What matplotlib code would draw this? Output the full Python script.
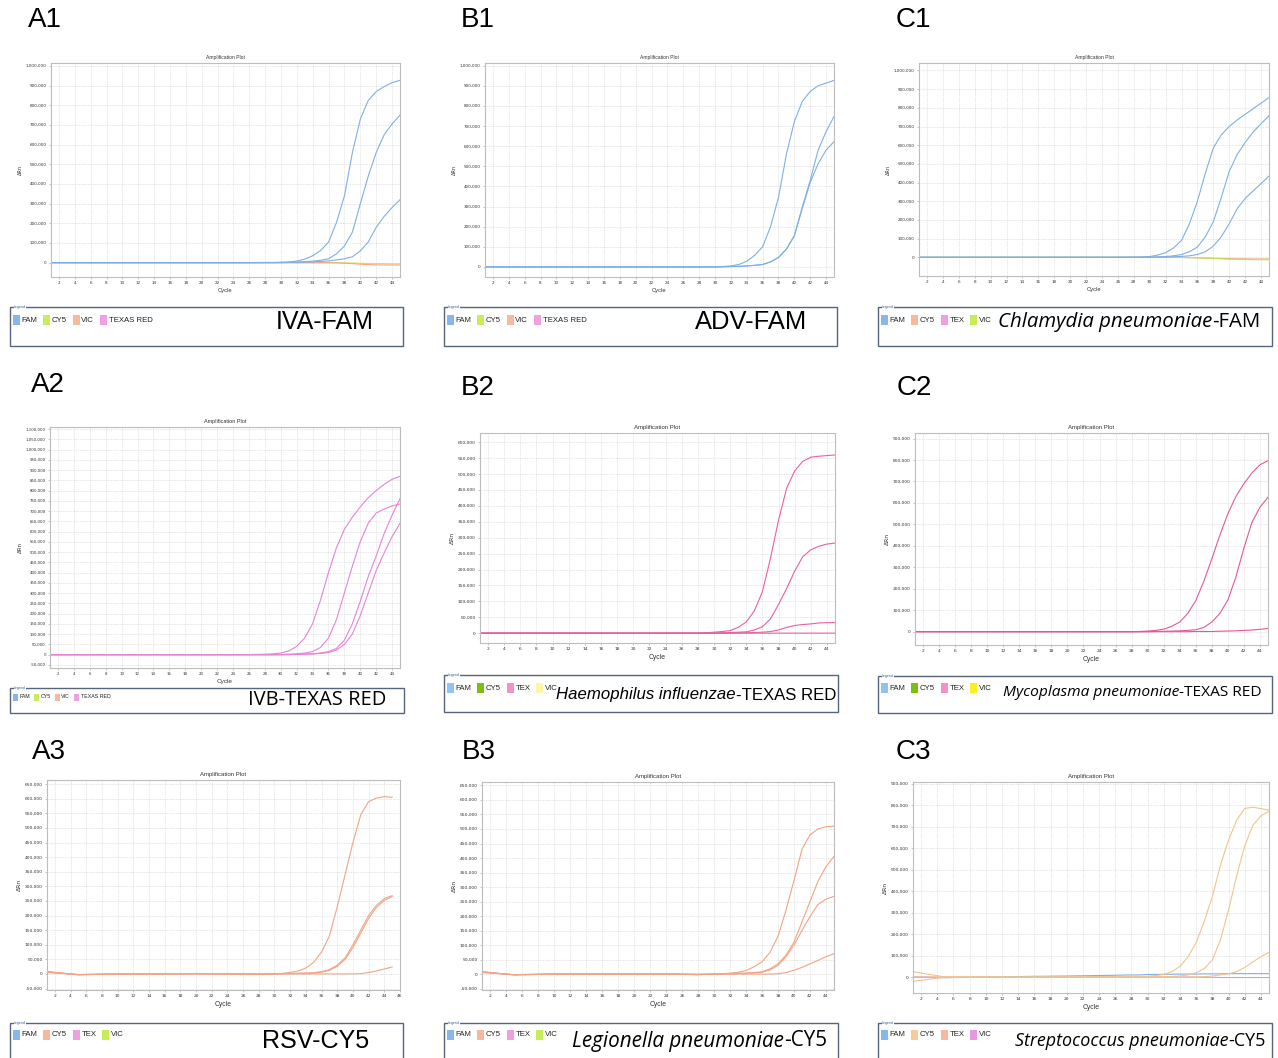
import matplotlib
matplotlib.use('Agg')
import matplotlib.pyplot as plt
from matplotlib.patches import Rectangle
from matplotlib.ticker import FuncFormatter

W, H = 1278, 1058

CYC = [1, 5, 10, 15, 20, 25, 28, 29, 30, 31, 32, 33, 34, 35, 36, 37, 38, 39, 40, 41, 42, 43, 44, 45]

A1_FAM = [
    [0, 0, 0, 0, 0, 0, 1, 1, 2, 3, 8, 18, 35, 62, 105, 205, 340, 560, 730, 825, 870, 895, 915, 927],
    [0, 0, 0, 0, 0, 0, 0, 0, 1, 2, 3, 5, 8, 12, 20, 45, 85, 155, 300, 440, 560, 650, 705, 750],
    [0, 0, 0, 0, 0, 0, 0, 0, 0, 1, 2, 3, 4, 6, 9, 14, 20, 30, 60, 105, 180, 235, 280, 320],
]
A1_VIC = [0, 0, 0, 0, 0, 0, 0, 0, 0, 0, 0, 0, 0, 0, 0, -1, -3, -5, -8, -10, -11, -12, -12, -12]
A1_CY5 = [0, 0, 0, 0, 0, 0, 0, 0, 0, 0, 0, 0, 0, 0, 0, 0, -1, -2, -3, -4, -5, -5, -6, -6]

B1_FAM = [
    [0, 0, 0, 0, 0, 0, 0, 0, 1, 2, 5, 12, 28, 58, 100, 200, 345, 560, 722, 822, 872, 900, 913, 927],
    [0, 0, 0, 0, 0, 0, 0, 0, 0, 1, 2, 3, 5, 8, 12, 25, 47, 88, 155, 297, 430, 580, 672, 747],
    [0, 0, 0, 0, 0, 0, 0, 0, 0, 1, 2, 3, 5, 8, 12, 25, 47, 88, 155, 290, 420, 513, 580, 622],
]

C1_FAM = [
    [0, 0, 0, 0, 0, 0, 1, 2, 4, 12, 25, 50, 90, 180, 300, 450, 585, 655, 700, 735, 765, 795, 825, 855],
    [0, 0, 0, 0, 0, 0, 0, 0, 1, 2, 4, 8, 15, 30, 55, 110, 190, 320, 460, 550, 615, 670, 715, 758],
    [0, 0, 0, 0, 0, 0, 0, 0, 0, 1, 2, 3, 5, 8, 15, 30, 60, 110, 180, 260, 315, 355, 395, 435],
]
C1_CY5 = [0, 0, 0, 0, 0, 0, 0, 0, 0, 0, 0, 0, -1, -2, -3, -4, -5, -6, -7, -8, -8, -9, -9, -9]
C1_VIC = [0, 0, 0, 0, 0, 0, 0, 0, 0, 0, 0, 0, 0, -1, -2, -4, -6, -8, -10, -11, -12, -12, -13, -13]

A2_TEX = [
    [0, 0, 0, 0, 0, 0, 2, 4, 8, 18, 40, 80, 150, 265, 400, 520, 610, 670, 720, 765, 800, 830, 855, 870],
    [0, 0, 0, 0, 0, 0, 0, 0, 1, 2, 4, 8, 15, 35, 80, 170, 300, 430, 550, 640, 690, 710, 725, 735],
    [0, 0, 0, 0, 0, 0, 0, 0, 0, 1, 2, 3, 5, 8, 15, 30, 70, 150, 260, 380, 480, 590, 680, 760],
    [0, 0, 0, 0, 0, 0, 0, 0, 0, 0, 1, 2, 3, 6, 10, 22, 50, 100, 190, 300, 410, 495, 575, 640],
]

B2_TEX = [
    [0, 0, 0, 0, 0, 0, 0, 1, 3, 5, 8, 18, 35, 70, 130, 235, 355, 455, 510, 540, 553, 556, 558, 560],
    [0, 0, 0, 0, 0, 0, 0, 0, 0, 1, 2, 3, 4, 10, 20, 45, 90, 140, 195, 240, 262, 273, 280, 283],
    [0, 0, 0, 0, 0, 0, 0, 0, 0, 0, 0, 1, 1, 2, 3, 5, 10, 18, 24, 27, 29, 32, 33, 33],
    [0, 0, 0, 0, -1, 0, 0, 0, 0, 0, 0, 0, 0, 0, 0, 0, 0, 0, 0, 0, 0, 0, 0, 0],
]

C2_TEX = [
    [0, 0, 0, 0, 0, 0, 0, 1, 3, 6, 12, 25, 45, 85, 145, 235, 340, 450, 550, 630, 690, 740, 778, 797],
    [0, 0, 0, 0, 0, 0, 0, 0, 0, 1, 2, 3, 4, 6, 9, 20, 45, 85, 148, 255, 390, 510, 580, 627],
    [0, 0, 0, 0, 0, 0, 0, 0, 0, 0, 0, 0, 0, 0, 1, 1, 1, 2, 3, 4, 6, 8, 11, 15],
]

A3_CY5 = [
    [8, -3, 0, 0, 1, 0, -1, 0, 1, 2, 5, 10, 20, 40, 75, 130, 230, 340, 450, 545, 590, 602, 607, 605],
    [8, -3, 0, 0, 1, 0, -1, 0, 0, 1, 2, 2, 3, 4, 8, 15, 30, 55, 100, 150, 200, 235, 258, 268],
    [6, -2, 0, 0, 1, 0, -1, 0, 0, 1, 1, 2, 2, 3, 6, 12, 26, 50, 90, 140, 190, 228, 252, 265],
    [5, -2, 0, 0, 0, 0, 0, 0, 0, 0, 0, 0, 0, 0, 0, 0, 0, 0, 0, 1, 5, 10, 17, 24],
]

B3_CY5 = [
    [8, -3, 0, 0, 0, 0, -2, -1, 0, 1, 3, 6, 12, 25, 42, 75, 130, 220, 323, 430, 480, 500, 508, 510],
    [8, -3, 0, 0, 0, 0, -2, -1, 0, 0, 1, 2, 3, 5, 8, 18, 35, 65, 110, 180, 250, 320, 370, 406],
    [6, -2, 0, 0, 0, 0, -2, -1, 0, 0, 1, 2, 3, 4, 6, 14, 30, 60, 100, 150, 198, 240, 258, 268],
    [5, -2, 0, 0, 0, 0, 0, 0, 0, 0, 0, 0, 0, 0, 0, 0, 1, 5, 13, 23, 35, 47, 60, 70],
]

C3_CY5 = [
    [25, 0, 0, 0, 0, 0, 1, 2, 4, 7, 12, 25, 50, 95, 160, 260, 375, 520, 637, 730, 784, 790, 783, 776],
    [-20, 0, 0, 0, 0, 0, 0, 0, 0, 1, 2, 3, 5, 10, 20, 40, 80, 173, 312, 470, 610, 705, 750, 770],
    [0, 0, 0, 0, 0, 0, 0, 0, 0, 0, 0, 0, 0, 0, 1, 2, 5, 10, 15, 25, 45, 70, 95, 115],
]
C3_FAM = [0, -3, 0, 3, 5, 8, 10, 10, 12, 12, 13, 13, 14, 14, 14, 15, 15, 15, 16, 16, 16, 16, 16, 16]
C3_VIC = [0, 0, 0, 0, 0, 0, 0, 0, 0, 0, 0, 0, 0, 0, 0, -1, -1, -2, -2, -2, -2, -2, -2, -2]

LEG_1 = ['FAM', 'CY5', 'VIC', 'TEXAS RED']
LEG_2 = ['FAM', 'CY5', 'TEX', 'VIC']

BLUE, LIME, SALMON, PINK = '#86b6ea', '#c8ec5a', '#f8b8a0', '#f0a0e0'
ARIAL = ['Liberation Sans', 'DejaVu Sans']
OPEN = ['Open Sans', 'DejaVu Sans']

fig = plt.figure(figsize=(W / 100, H / 100), dpi=100)
ov = fig.add_axes([0, 0, 1, 1], zorder=5)
ov.set_xlim(0, W)
ov.set_ylim(H, 0)
ov.axis('off')
renderer = fig.canvas.get_renderer()


def draw_panel(rect, series, ylim, yticks, xmax=45, fs=3.2, tfs=4.0):
    l, t, r, b = rect
    ax = fig.add_axes([l / W, 1 - b / H, (r - l) / W, (b - t) / H])
    for vals, color in series:
        ax.plot(CYC, [v * 1000 for v in vals], color=color, lw=0.8)
    ax.set_xlim(1, xmax)
    ax.set_ylim(*ylim)
    ax.set_xticks(range(2, xmax + 1, 2))
    ax.set_yticks(yticks)
    ax.yaxis.set_major_formatter(FuncFormatter(lambda v, p: f'{int(round(v)):,}'))
    ax.grid(True, color='#cccccc', ls=(0, (1, 1.5)), lw=0.5)
    for s in ax.spines.values():
        s.set_color('#bdbdbd')
        s.set_linewidth(0.8)
    ax.tick_params(labelsize=fs, length=1.5, width=0.4, color='#999999', pad=1.5, labelcolor='#333333')
    ax.set_title('Amplification Plot', fontsize=tfs, pad=3, family=ARIAL, color='#333333')
    ax.set_xlabel('Cycle', fontsize=tfs + 0.6, labelpad=2, family=ARIAL, color='#333333')
    ax.set_ylabel('ΔRn', fontsize=tfs, labelpad=2, color='#333333')
    return ax


def draw_legend(box, names, colors, yc, fs=5.6, sw=7, sh=10, gap=6):
    l, t, r, b = box
    ov.add_patch(Rectangle((l, t), r - l, b - t, fill=False, ec='#56657f', lw=1.0, clip_on=False))
    ov.text(l + 4, t, 'Legend', fontsize=2.3, color='#3060a0', va='center', ha='left',
            bbox=dict(fc='white', ec='none', pad=0.3))
    x = l + 3
    for name, col in zip(names, colors):
        ov.add_patch(Rectangle((x, yc - sh / 2), sw, sh, fc=col, ec='none'))
        txt = ov.text(x + sw + 1.5, yc, name, fontsize=fs, va='center', ha='left', family=ARIAL,
                      color='#222222')
        w = txt.get_window_extent(renderer).width
        x = x + sw + 1.5 + w + gap


def draw_name(x_left, x_right, yc, italic, plain, fam):
    # size the label so that it spans the same width as in the figure
    p = ov.text(x_right, yc, plain, fontsize=12, va='center', ha='right', family=fam, color='black')
    parts = [p]
    if italic:
        parts.append(ov.text(x_right, yc, italic, fontsize=12, va='center', ha='right', family=fam,
                             style='italic', color='black'))
    total = sum(t.get_window_extent(renderer).width for t in parts)
    fs = 12 * (x_right - x_left) / total
    for t in parts:
        t.set_fontsize(fs)
    if italic:
        parts[1].set_x(x_right - p.get_window_extent(renderer).width)


def panel_tag(x, y, tag):
    ov.text(x, y, tag, fontsize=20, va='center', ha='left', family=ARIAL, color='black')


Y_1M = list(range(0, 1000001, 100000))
Y_900 = list(range(0, 900001, 100000))

# ---- row 1 ----
panel_tag(28, 20, 'A1')
draw_panel((51, 63, 400, 277),
           [(A1_CY5, '#d8e060'), (A1_VIC, '#f4a882')] + [(c, '#7fb0e4') for c in A1_FAM],
           (-73000, 1015000), Y_1M, fs=3.0, tfs=3.6)
draw_legend((10, 307, 403, 346), LEG_1, [BLUE, LIME, SALMON, PINK], 320)
draw_name(276, 374, 322, '', 'IVA-FAM', ARIAL)

panel_tag(461, 20, 'B1')
draw_panel((485, 63, 834, 277), [(c, '#7fb0e4') for c in B1_FAM],
           (-50000, 1013000), Y_1M, fs=3.0, tfs=3.6)
draw_legend((444, 307, 837, 346), LEG_1, [BLUE, LIME, SALMON, PINK], 320)
draw_name(695, 807, 322, '', 'ADV-FAM', ARIAL)

panel_tag(896, 20, 'C1')
draw_panel((919, 63, 1269, 276),
           [(C1_CY5, '#f4a882'), (C1_VIC, '#c4e050')] + [(c, '#7fb0e4') for c in C1_FAM],
           (-100000, 1040000), Y_1M, fs=3.0, tfs=3.6)
draw_legend((878, 307, 1272, 346), LEG_2, [BLUE, SALMON, PINK, LIME], 320)
draw_name(997, 1260, 322, 'Chlamydia pneumoniae', '-FAM', OPEN)

# ---- row 2 ----
panel_tag(31, 385, 'A2')
draw_panel((50, 427, 400, 668), [(c, '#e684d6') for c in A2_TEX],
           (-65000, 1110000), list(range(-50000, 1100001, 50000)), fs=2.8, tfs=4.0)
draw_legend((10, 688, 404, 713), LEG_1, [BLUE, LIME, SALMON, PINK], 697, fs=3.8, sw=5, sh=7, gap=4)
draw_name(248, 386, 700, '', 'IVB-TEXAS RED', OPEN)

panel_tag(461, 388, 'B2')
draw_panel((480, 433, 835, 643), [(c, '#ea5fa2') for c in B2_TEX],
           (-31000, 629000), list(range(0, 600001, 50000)), fs=3.2, tfs=4.3)
draw_legend((444, 675, 838, 712), LEG_2, ['#90c4f0', '#7cbf12', '#f590c8', '#fff5a8'], 688)
draw_name(557, 836, 695, 'Haemophilus influenzae', '-TEXAS RED', ARIAL)

panel_tag(897, 388, 'C2')
draw_panel((915, 433, 1268, 645), [(c, '#e2599a') for c in C2_TEX],
           (-62000, 926000), Y_900, fs=3.2, tfs=4.3)
draw_legend((878, 676, 1272, 713), LEG_2, ['#90c4f0', '#7cbf12', '#f590c8', '#ffee22'], 688)
draw_name(1004, 1262, 692, 'Mycoplasma pneumoniae', '-TEXAS RED', OPEN)

# ---- row 3 ----
panel_tag(32, 752, 'A3')
draw_panel((47, 780, 400, 990), [(c, '#f2a484') for c in A3_CY5],
           (-55000, 664000), list(range(-50000, 650001, 50000)), xmax=46, fs=3.2, tfs=4.3)
draw_legend((10, 1023, 403, 1064), LEG_2, [BLUE, SALMON, PINK, LIME], 1035)
draw_name(262, 369, 1041, '', 'RSV-CY5', ARIAL)

panel_tag(462, 752, 'B3')
draw_panel((482, 782, 834, 990), [(c, '#f2a484') for c in B3_CY5],
           (-55000, 662000), list(range(-50000, 650001, 50000)), fs=3.2, tfs=4.3)
draw_legend((444, 1023, 838, 1064), LEG_2, [BLUE, SALMON, PINK, LIME], 1035)
draw_name(573, 827, 1041, 'Legionella pneumoniae', '-CY5', OPEN)

panel_tag(896, 752, 'C3')
draw_panel((913, 782, 1269, 993),
           [(C3_VIC, '#e890e0'), (C3_FAM, '#7fb0e4')] + [(c, '#f2c48c') for c in C3_CY5],
           (-74000, 907000), Y_900, fs=3.2, tfs=4.3)
draw_legend((878, 1023, 1272, 1064), LEG_2, [BLUE, '#f8cc98', SALMON, '#e898e0'], 1035)
draw_name(1016, 1266, 1041, 'Streptococcus pneumoniae', '-CY5', OPEN)

fig.savefig('out.png', dpi=100, facecolor='white')
